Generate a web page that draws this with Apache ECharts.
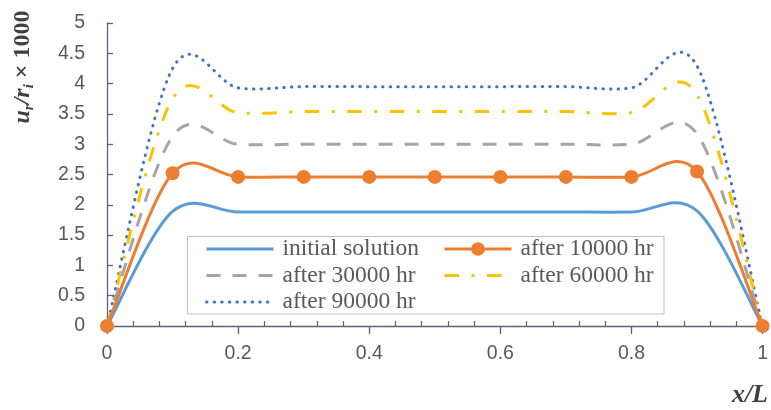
<!DOCTYPE html>
<html><head><meta charset="utf-8">
<script src="https://cdn.jsdelivr.net/npm/echarts@6/dist/echarts.min.js"></script>
<style>html,body{margin:0;padding:0;background:#fff}#c{width:771px;height:410px}</style>
</head><body><div id="c"></div><script>
// ---- data ----
const xValues = [0, 0.1, 0.2, 0.3, 0.4, 0.5, 0.6, 0.7, 0.8, 0.9, 1];
const seriesNames = ['initial solution', 'after 10000 hr', 'after 30000 hr', 'after 60000 hr', 'after 90000 hr'];
const initialSolution = [0, 1.89, 1.88, 1.88, 1.88, 1.88, 1.88, 1.88, 1.88, 1.90, 0];
const after10000 = [0, 2.52, 2.46, 2.46, 2.46, 2.46, 2.46, 2.46, 2.46, 2.55, 0];
const after30000 = [0, 3.13, 3.00, 3.00, 3.00, 3.00, 3.00, 3.00, 3.00, 3.17, 0];
const after60000 = [0, 3.75, 3.52, 3.54, 3.54, 3.54, 3.54, 3.54, 3.52, 3.82, 0];
const after90000 = [0, 4.25, 3.93, 3.95, 3.95, 3.95, 3.95, 3.95, 3.93, 4.29, 0];
const xMajorTicks = [0, 0.2, 0.4, 0.6, 0.8, 1];
const yTickLabels = ['0', '0.5', '1', '1.5', '2', '2.5', '3', '3.5', '4', '4.5', '5'];

const pairs = arr => xValues.map((x, i) => [x, arr[i]]);
const minorTicks = [];
for (let k = 1; k < 25; k++) { if (k % 5 !== 0) minorTicks.push(+(k * 0.04).toFixed(2)); }

const axisColor = '#56657a';
const labelFont = 'Liberation Sans';
const serif = 'Liberation Serif';

const styles = [
  {color: '#5B9BD5', type: 'solid', cap: 'butt'},
  {color: '#ED7D31', type: 'solid', cap: 'butt'},
  {color: '#A5A5A5', type: [14, 12], cap: 'butt'},
  {color: '#FFC000', type: [14.5, 12.5, 3, 12.5], cap: 'butt'},
  {color: '#4472C4', type: [0.5, 7.1], cap: 'round'}
];
const dataSets = [initialSolution, after10000, after30000, after60000, after90000];

// Excel-style smoothed curve (cardinal spline through the data points, via the chart's own coordinate system)
function curveSeries(idx) {
  const st = styles[idx];
  return {
    type: 'custom', name: 'curve' + idx, data: pairs(dataSets[idx]), z: idx === 1 ? 3 : 2, silent: true,
    renderItem: (params, api) => {
      if (params.dataIndexInside !== 0) return null;
      const n = params.dataInsideLength;
      const pts = [];
      for (let i = 0; i < n; i++) pts.push(api.coord([api.value(0, i), api.value(1, i)]));
      let d = 'M' + pts[0][0] + ',' + pts[0][1];
      for (let i = 0; i < n - 1; i++) {
        const p0 = pts[i > 0 ? i - 1 : i], p1 = pts[i], p2 = pts[i + 1], p3 = pts[i + 2 < n ? i + 2 : i + 1];
        const c1x = p1[0] + (p2[0] - p0[0]) / 6, c1y = p1[1] + (p2[1] - p0[1]) / 6;
        const c2x = p2[0] - (p3[0] - p1[0]) / 6, c2y = p2[1] - (p3[1] - p1[1]) / 6;
        d += ' C' + c1x + ',' + c1y + ' ' + c2x + ',' + c2y + ' ' + p2[0] + ',' + p2[1];
      }
      return {type: 'path', shape: {pathData: d},
        style: {fill: 'none', stroke: st.color, lineWidth: 3,
          lineDash: st.type === 'solid' ? null : st.type, lineCap: st.cap, lineJoin: 'round'}};
    }
  };
}
// Line series: legend entries + orange markers (their own lines hidden; curves drawn above)
function legendSeries(idx) {
  const st = styles[idx];
  return {
    name: seriesNames[idx], type: 'line', data: pairs(dataSets[idx]), smooth: false,
    symbol: idx === 1 ? 'circle' : 'none', symbolSize: 14, showSymbol: idx === 1,
    itemStyle: {color: st.color},
    lineStyle: {color: st.color, width: 3, type: st.type, cap: st.cap, opacity: 0},
    z: idx === 1 ? 4 : 1, silent: true
  };
}

const chart = echarts.init(document.getElementById('c'), null, {renderer: 'canvas'});
const legendCommon = {
  orient: 'vertical', itemWidth: 67, itemHeight: 17, itemGap: 0, padding: 0, top: 235.75,
  textStyle: {fontFamily: serif, fontSize: 23.5, color: '#595959', lineHeight: 26.5, padding: [0, 0, 0, 4]},
  lineStyle: {opacity: 1, width: 3},
  selectedMode: false, z: 6
};
const legData = i => (i === 1 ? {name: seriesNames[i]} : {name: seriesNames[i], itemStyle: {opacity: 0}});
chart.setOption({
  animation: false,
  backgroundColor: '#ffffff',
  grid: {left: 107, right: 5, top: 23, bottom: 84, containLabel: false},
  legend: [
    Object.assign({left: 205, data: [legData(0), legData(2), legData(4)]}, legendCommon),
    Object.assign({left: 443, data: [legData(1), legData(3)]}, legendCommon)
  ],
  xAxis: [{
    type: 'value', min: 0, max: 1, interval: 0.2,
    axisLine: {show: true, lineStyle: {color: axisColor, width: 1.3}},
    axisTick: {show: true, inside: false, length: 8, lineStyle: {color: axisColor, width: 1.3}},
    axisLabel: {margin: 18, color: '#595959', fontSize: 19.5, fontFamily: labelFont,
      formatter: v => { const i = xMajorTicks.findIndex(t => Math.abs(t - v) < 1e-9); return i >= 0 ? String(xMajorTicks[i]) : ''; }},
    splitLine: {show: false}
  }, {
    type: 'value', min: 0, max: 1, interval: 0.04, position: 'bottom',
    axisLine: {show: false},
    axisTick: {show: true, inside: true, length: 5, customValues: minorTicks, lineStyle: {color: axisColor, width: 1.2}},
    axisLabel: {show: false}, splitLine: {show: false}
  }],
  yAxis: {
    type: 'value', min: 0, max: 5, interval: 0.5,
    axisLine: {show: true, lineStyle: {color: axisColor, width: 1.3}},
    axisTick: {show: true, inside: true, length: 6, lineStyle: {color: axisColor, width: 1.3}},
    axisLabel: {margin: 22, color: '#595959', fontSize: 19.5, fontFamily: labelFont,
      formatter: v => yTickLabels[Math.round(v / 0.5)]},
    splitLine: {show: false}
  },
  series: [0, 1, 2, 3, 4].map(legendSeries).concat([0, 4, 3, 2, 1].map(curveSeries)),
  graphic: [
    {type: 'rect', shape: {x: 187.5, y: 236.5, width: 476.5, height: 77.5}, style: {fill: '#ffffff', stroke: '#bfbfbf', lineWidth: 1}, z: 5},
    {type: 'text', x: 23, y: 67, rotation: Math.PI / 2, z: 6,
      style: {text: '{a|u}{b|r}{a|/r}{b|i}{c| × 1000}', align: 'center', verticalAlign: 'middle', fill: '#404040',
        rich: {
          a: {fontFamily: serif, fontSize: 24, fontStyle: 'italic', fontWeight: 'bold', fill: '#404040', lineHeight: 28},
          b: {fontFamily: serif, fontSize: 15, fontStyle: 'italic', fontWeight: 'bold', fill: '#404040', lineHeight: 15, verticalAlign: 'bottom'},
          c: {fontFamily: serif, fontSize: 24, fontWeight: 'bold', fill: '#404040', lineHeight: 28}
        }}},
    {type: 'text', x: 768, y: 395, z: 6,
      style: {text: 'x/L', align: 'right', verticalAlign: 'middle', fontFamily: serif, fontSize: 26, fontStyle: 'italic', fontWeight: 'bold', fill: '#404040'}}
  ]
});
</script></body></html>
